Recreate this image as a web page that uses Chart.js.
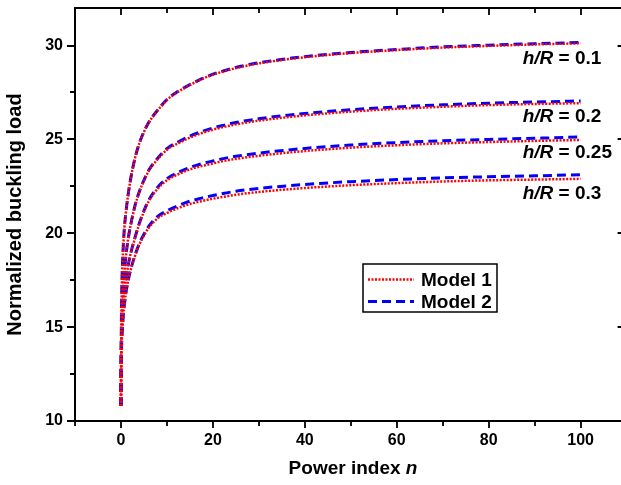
<!DOCTYPE html>
<html>
<head>
<meta charset="utf-8">
<script src="https://cdn.jsdelivr.net/npm/chart.js@4.4.1/dist/chart.umd.min.js"></script>
<style>
  html, body { margin: 0; padding: 0; background: #fff; overflow: hidden; }
  #wrap { width: 640px; height: 485px; }
</style>
</head>
<body>
<div id="wrap"><canvas id="chart" width="640" height="485"></canvas></div>
<script>
// ------------------ Data ------------------

const powerIndex = [0, 0.05, 0.1, 0.2, 0.35, 0.5, 0.75, 1, 1.5, 2, 3, 4, 5, 6, 8, 10,
  12.5, 15, 17.5, 20, 22.5, 25, 30, 40, 50, 60, 70, 80, 90, 100];

// Model 1 (red dotted)
const model1_hR01  = [10.8, 13.8, 15.6, 17.3, 18.5, 19.3, 20.3, 20.95, 21.95, 22.75, 23.95, 24.8, 25.4, 25.88, 26.55, 27.1, 27.55, 27.9, 28.2, 28.45, 28.63, 28.8, 29.05, 29.38, 29.6, 29.76, 29.89, 29.98, 30.06, 30.12];
const model1_hR02  = [10.8, 13.4, 14.6, 15.6, 16.4, 17.1, 17.9, 18.6, 19.6, 20.3, 21.4, 22.2, 22.8, 23.3, 23.95, 24.45, 24.8, 25.1, 25.33, 25.52, 25.67, 25.8, 26.0, 26.28, 26.48, 26.63, 26.74, 26.83, 26.89, 26.93];
const model1_hR025 = [10.8, 13.1, 14.2, 15.1, 15.8, 16.4, 17.0, 17.4, 18.2, 18.8, 19.7, 20.5, 21.15, 21.68, 22.38, 22.82, 23.15, 23.4, 23.58, 23.72, 23.86, 23.96, 24.13, 24.38, 24.56, 24.69, 24.79, 24.86, 24.92, 24.97];
const model1_hR03  = [10.8, 12.7, 13.6, 14.4, 15.0, 15.6, 16.2, 16.7, 17.4, 17.95, 18.75, 19.4, 19.88, 20.28, 20.8, 21.08, 21.35, 21.56, 21.71, 21.84, 21.95, 22.05, 22.2, 22.41, 22.56, 22.67, 22.76, 22.82, 22.86, 22.9];

// Model 2 (blue dashed)
const model2_hR01  = [10.8, 13.8, 15.6, 17.3, 18.5, 19.3, 20.3, 20.95, 21.95, 22.75, 23.95, 24.8, 25.41, 25.89, 26.57, 27.12, 27.57, 27.92, 28.22, 28.47, 28.66, 28.83, 29.08, 29.41, 29.63, 29.79, 29.93, 30.02, 30.1, 30.16];
const model2_hR02  = [10.8, 13.4, 14.6, 15.6, 16.4, 17.1, 17.9, 18.6, 19.6, 20.3, 21.42, 22.23, 22.83, 23.34, 24.0, 24.51, 24.87, 25.18, 25.41, 25.61, 25.76, 25.9, 26.1, 26.38, 26.58, 26.73, 26.84, 26.93, 26.99, 27.05];
const model2_hR025 = [10.8, 13.1, 14.2, 15.1, 15.8, 16.4, 17.0, 17.4, 18.2, 18.8, 19.73, 20.54, 21.2, 21.74, 22.46, 22.91, 23.25, 23.51, 23.7, 23.85, 23.99, 24.1, 24.27, 24.52, 24.7, 24.83, 24.93, 25.0, 25.06, 25.13];
const model2_hR03  = [10.8, 12.7, 13.6, 14.4, 15.0, 15.6, 16.2, 16.7, 17.4, 17.95, 18.79, 19.45, 19.95, 20.36, 20.9, 21.2, 21.48, 21.71, 21.87, 22.01, 22.13, 22.24, 22.39, 22.6, 22.75, 22.86, 22.95, 23.01, 23.06, 23.12];

// curve labels (h/R values) and where they sit, in axis units
const curveLabels = ["0.1", "0.2", "0.25", "0.3"];
const curveLabelY = [29.31, 26.22, 24.27, 22.13];
const curveLabelX = 87.4;

const xMajorTicks = [0, 20, 40, 60, 80, 100];
const yMajorTicks = [10, 15, 20, 25, 30];

// ------------------ Chart ------------------

const FONT = "'Liberation Sans', Arial, sans-serif";
const RED = '#ff0000';
const BLUE = '#0000ff';

function toPoints(values) {
  return powerIndex.map((n, i) => ({ x: n, y: values[i] }));
}

function redLine(values) {
  return {
    data: toPoints(values),
    borderColor: RED,
    borderWidth: 2.5,
    borderDash: [2, 1.5],
    pointRadius: 0,
    cubicInterpolationMode: 'monotone',
    fill: false
  };
}

function blueLine(values) {
  return {
    data: toPoints(values),
    borderColor: BLUE,
    borderWidth: 3,
    borderDash: [9, 5],
    pointRadius: 0,
    cubicInterpolationMode: 'monotone',
    fill: false
  };
}

function drawRich(ctx, parts, x, y, size) {
  let cx = x;
  parts.forEach(p => {
    ctx.font = (p.italic ? 'italic ' : '') + 'bold ' + size + 'px ' + FONT;
    ctx.fillText(p.text, cx, y);
    cx += ctx.measureText(p.text).width;
  });
}

function richWidth(ctx, parts, size) {
  let w = 0;
  parts.forEach(p => {
    ctx.font = (p.italic ? 'italic ' : '') + 'bold ' + size + 'px ' + FONT;
    w += ctx.measureText(p.text).width;
  });
  return w;
}

const framePlugin = {
  id: 'frame',
  afterDraw(chart) {
    const ctx = chart.ctx;
    const xs = chart.scales.x, ys = chart.scales.y;
    const L = xs.getPixelForValue(-10), R = xs.getPixelForValue(110);
    const T = ys.getPixelForValue(32), B = ys.getPixelForValue(10);
    ctx.save();
    ctx.setLineDash([]);
    ctx.globalAlpha = 1;
    ctx.strokeStyle = '#000';
    ctx.fillStyle = '#000';
    ctx.lineCap = 'butt';

    // frame
    ctx.lineWidth = 2;
    ctx.beginPath();
    ctx.moveTo(L, T); ctx.lineTo(R, T); ctx.lineTo(R, B); ctx.lineTo(L, B); ctx.closePath();
    ctx.stroke();

    // x ticks every 10: bottom outward, top inward
    ctx.lineWidth = 1.8;
    ctx.beginPath();
    for (let v = -10; v <= 110; v += 10) {
      const px = Math.round(xs.getPixelForValue(v));
      const len = xMajorTicks.includes(v) ? 7 : 5;
      ctx.moveTo(px, B); ctx.lineTo(px, B + len);
      ctx.moveTo(px, T); ctx.lineTo(px, T + len);
    }
    // y ticks every 2.5: left outward, right inward (major only)
    for (let v = 10; v <= 30; v += 2.5) {
      const py = Math.round(ys.getPixelForValue(v));
      const major = yMajorTicks.includes(v);
      ctx.moveTo(L, py); ctx.lineTo(L - (major ? 8 : 5), py);
      if (major) { ctx.moveTo(R, py); ctx.lineTo(R - 9, py); }
    }
    ctx.stroke();

    // axis titles
    ctx.textBaseline = 'middle';
    ctx.textAlign = 'left';
    const xt = [{ text: 'Power index ' }, { text: 'n', italic: true }];
    drawRich(ctx, xt, 353 - richWidth(ctx, xt, 19) / 2, 469, 19);

    ctx.save();
    ctx.translate(15, (T + B) / 2);
    ctx.rotate(-Math.PI / 2);
    ctx.font = 'bold 20px ' + FONT;
    ctx.textAlign = 'center';
    ctx.fillText('Normalized buckling load', 0, 0);
    ctx.restore();

    // curve labels
    curveLabels.forEach((lab, i) => {
      const px = xs.getPixelForValue(curveLabelX);
      const py = ys.getPixelForValue(curveLabelY[i]);
      drawRich(ctx, [{ text: 'h/R', italic: true }, { text: ' = ' + lab }], px, py, 19);
    });

    // legend
    const lx = L + 288, ly = T + 256, lw = 134, lh = 48;
    ctx.lineWidth = 1.5;
    ctx.strokeRect(lx, ly, lw, lh);
    const items = [
      { label: 'Model 1', ds: chart.data.datasets[0] },
      { label: 'Model 2', ds: chart.data.datasets[4] }
    ];
    items.forEach((it, i) => {
      const yy = ly + 15.5 + i * 22;
      ctx.save();
      ctx.strokeStyle = it.ds.borderColor;
      ctx.lineWidth = it.ds.borderWidth;
      ctx.setLineDash(it.ds.borderDash);
      ctx.beginPath();
      ctx.moveTo(lx + 5, yy);
      ctx.lineTo(lx + 51, yy);
      ctx.stroke();
      ctx.restore();
      ctx.font = 'bold 19px ' + FONT;
      ctx.fillText(it.label, lx + 58, yy + 1);
    });

    ctx.restore();
  }
};

new Chart(document.getElementById('chart'), {
  type: 'line',
  data: {
    datasets: [
      redLine(model1_hR01), redLine(model1_hR02), redLine(model1_hR025), redLine(model1_hR03),
      blueLine(model2_hR01), blueLine(model2_hR02), blueLine(model2_hR025), blueLine(model2_hR03)
    ]
  },
  options: {
    responsive: false,
    animation: false,
    devicePixelRatio: 1,
    layout: { padding: { top: 8, right: 13.4, left: 0, bottom: 0 } },
    plugins: { legend: { display: false }, tooltip: { enabled: false } },
    scales: {
      x: {
        type: 'linear',
        min: -10,
        max: 110,
        afterFit: s => {
          s.height = 64;
          s.paddingLeft = 0; s.paddingRight = 0;
        },
        afterBuildTicks: s => { s.ticks = xMajorTicks.map(v => ({ value: v })); },
        grid: { display: false },
        border: { display: false },
        ticks: {
          padding: 2,
          color: '#000',
          font: { family: FONT, size: 16, weight: 'bold' },
          maxRotation: 0,
          autoSkip: false
        }
      },
      y: {
        type: 'linear',
        min: 10,
        max: 32,
        afterFit: s => {
          s.width = 75;
          s.paddingTop = 0; s.paddingBottom = 0;
        },
        afterBuildTicks: s => { s.ticks = yMajorTicks.map(v => ({ value: v })); },
        grid: { display: false },
        border: { display: false },
        ticks: {
          padding: 4,
          color: '#000',
          font: { family: FONT, size: 16, weight: 'bold' },
          autoSkip: false
        }
      }
    }
  },
  plugins: [framePlugin]
});
</script>
</body>
</html>
